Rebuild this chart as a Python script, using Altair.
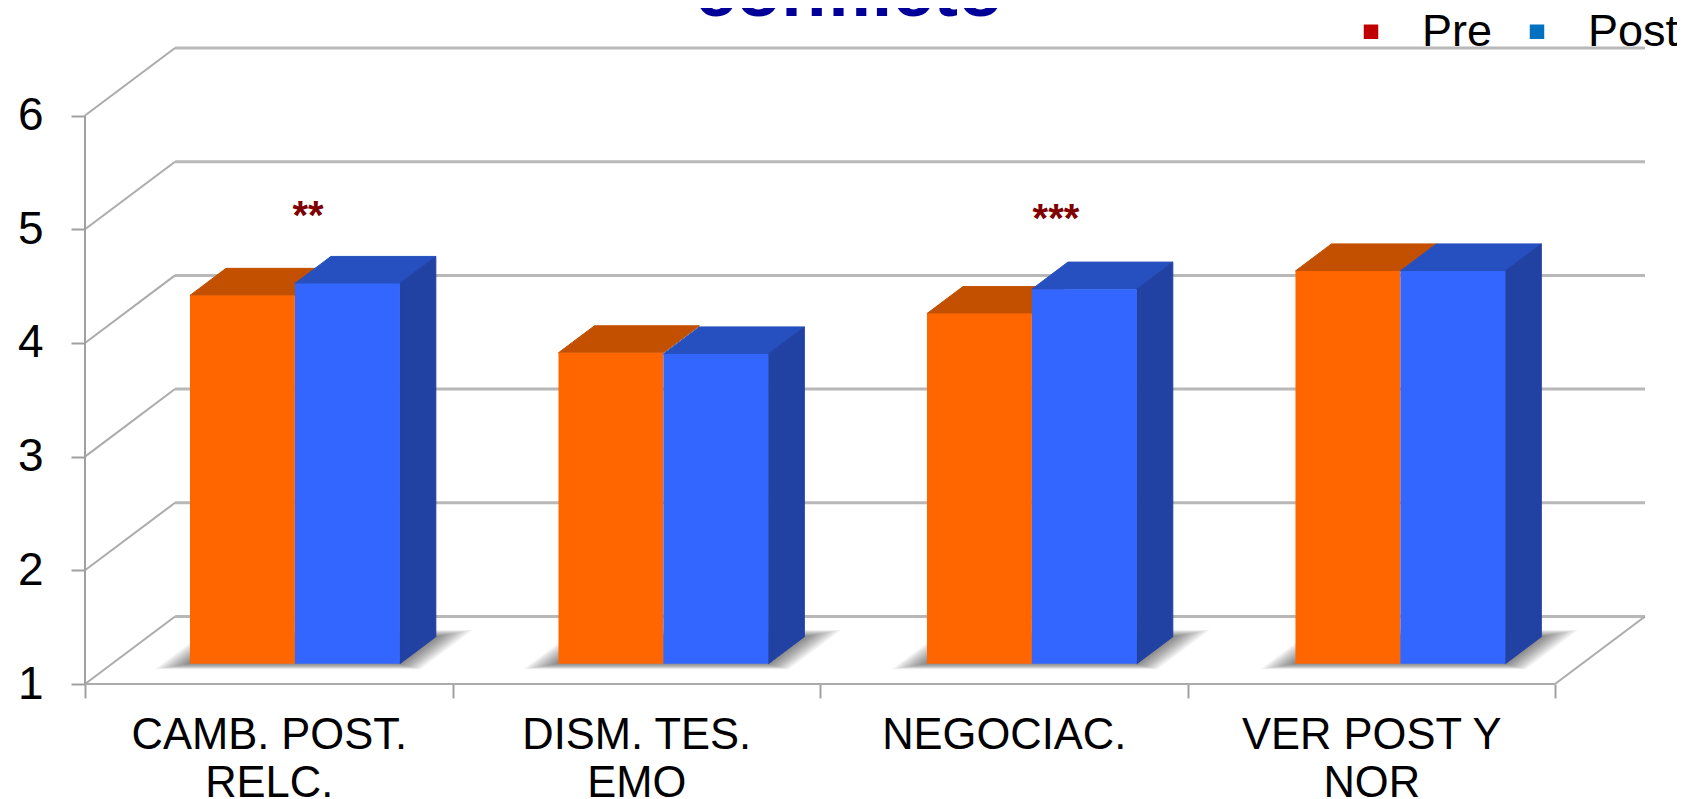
import json
import altair as alt
import pandas as pd

# ---- values ----
categories = ["CAMB. POST.|RELC.", "DISM. TES.|EMO", "NEGOCIAC.", "VER POST Y|NOR"]
pre_values = [4.24, 3.735, 4.08, 4.455]
post_values = [4.345, 3.725, 4.295, 4.455]
series_names = ["Pre", "Post"]
legend_colors = ["#C00000", "#0070C0"]
y_ticks = [1, 2, 3, 4, 5, 6]
sig_marks = ["**", "***"]
sig_groups = [0.607, 2.642]
sig_levels = [5.0, 4.98]
title_text = ["conflicto"]
title_x = [2.079]
title_y = [6.872]

# ---- projection of the fake 3-D box, in scale units ----
DX = 90 / 367.5
DY = 67.5 / 113.6
NEAR, FAR = 0.3, 0.7
BAR_W = 0.2855
BAR_START = 0.2857
BAR_STEP = 1.0027
n = len(categories)
X_DOMAIN = [0, n + DX]
Y_DOMAIN = [1, 6 + DY]
xs = alt.Scale(domain=X_DOMAIN, nice=False, zero=False)
ys = alt.Scale(domain=Y_DOMAIN, nice=False, zero=False)
GRID = "#B8B8B8"
DIAG = "#ABABAB"
AXC = "#A0A0A0"
FONT = "Liberation Sans"

x_enc = alt.X("x:Q", scale=xs, axis=None)
y_enc = alt.Y("y:Q", scale=ys, axis=None)

# grid and box frame
back = pd.DataFrame({"x": DX, "x2": n + DX, "y": [v + DY for v in y_ticks]})
back_lines = alt.Chart(back).mark_rule(color=GRID, strokeWidth=3).encode(
    x=x_enc, x2="x2:Q", y=y_enc)

diag_rows = []
for v in y_ticks:
    diag_rows += [{"id": f"l{v}", "x": 0, "y": v}, {"id": f"l{v}", "x": DX, "y": v + DY}]
diag_rows += [{"id": "r", "x": n, "y": 1}, {"id": "r", "x": n + DX, "y": 1 + DY}]
diag_rows += [{"id": "front", "x": 0, "y": 1}, {"id": "front", "x": n, "y": 1}]
diagonals = alt.Chart(pd.DataFrame(diag_rows)).mark_line(color=DIAG, strokeWidth=2).encode(
    x=x_enc, y=y_enc, detail="id:N")

axis_line = alt.Chart(pd.DataFrame({"x": [0, 0], "y": [1, 6]})).mark_line(
    color=AXC, strokeWidth=2).encode(x=x_enc, y=y_enc)

# real axes: ticks on the category borders, labels at their centres
tick_axis = alt.Chart(pd.DataFrame({"x": [0.0], "y": [1.0]})).mark_point(size=0, opacity=0).encode(
    x=alt.X("x:Q", scale=xs, axis=alt.Axis(
        orient="bottom", values=list(range(n + 1)), labels=False, title=None, domain=False,
        grid=False, tickSize=14, tickColor=AXC, tickWidth=2)),
    y=alt.Y("y:Q", scale=ys, axis=alt.Axis(
        orient="left", values=y_ticks, title=None, domain=False, grid=False, format="d",
        tickSize=14, tickColor=AXC, tickWidth=2,
        labelFont=FONT, labelFontSize=46, labelColor="#000000", labelPadding=28)),
)
label_expr = "split(" + json.dumps(categories) + "[floor(datum.value)], '|')"
label_axis = alt.Chart(pd.DataFrame({"x": [0.5], "y": [1.0]})).mark_point(size=0, opacity=0).encode(
    x=alt.X("x:Q", scale=xs, axis=alt.Axis(
        orient="bottom", values=[i + 0.5 for i in range(n)], labelExpr=label_expr, title=None,
        domain=False, grid=False, ticks=False, labelFont=FONT, labelFontSize=43.5,
        labelColor="#000000", labelPadding=30, labelLineHeight=48, labelAngle=0,
        labelOverlap=False, labelFlush=False, labelBound=False, labelLimit=600)),
    y=y_enc,
)

# soft floor shadows, as nested translucent parallelograms
shadow_rows = []
SPREADS = (1.0, 0.9, 0.8, 0.7, 0.6, 0.5, 0.4, 0.3, 0.2, 0.1)
for i in range(n):
    left = BAR_START + i * BAR_STEP
    right = left + 2 * BAR_W
    for g in SPREADS:
        d0, d1 = NEAR - 0.08 * g, FAR + 0.1 * g
        pad = 0.075 * g
        for d in (d0, d1):
            shadow_rows.append({
                "id": f"{i}-{g}", "y": 1 + d * DY,
                "x": left + (d - NEAR) * DX - pad,
                "x2": right + (d - NEAR) * DX + pad,
            })
shadows = alt.Chart(pd.DataFrame(shadow_rows)).mark_area(
    orient="horizontal", color="#000000", opacity=0.055, strokeWidth=0).encode(
    y=alt.Y("y:Q", scale=ys, axis=None),
    x=alt.X("x:Q", scale=xs, axis=None, stack=None), x2="x2:Q", detail="id:N")


def face_layers(values, start, top_c, front_c, side_c=None):
    base = NEAR * DY
    tops = [v + base for v in values]
    front = pd.DataFrame({
        "x": [BAR_START + i * BAR_STEP + start for i in range(n)],
        "y": 1 + base,
        "y2": tops,
    })
    front["x2"] = front["x"] + BAR_W
    top_rows, side_rows = [], []
    depth = FAR - NEAR
    for i, v in enumerate(tops):
        x0 = BAR_START + i * BAR_STEP + start
        for d in (0, depth):
            top_rows.append({"id": i, "y": v + d * DY, "x": x0 + d * DX, "x2": x0 + BAR_W + d * DX})
            side_rows.append({"id": i, "x": x0 + BAR_W + d * DX,
                              "y": 1 + base + d * DY, "y2": v + d * DY})
    out = [alt.Chart(pd.DataFrame(top_rows)).mark_area(
        orient="horizontal", color=top_c, stroke=top_c, strokeWidth=1).encode(
        y=alt.Y("y:Q", scale=ys, axis=None),
        x=alt.X("x:Q", scale=xs, axis=None, stack=None), x2="x2:Q", detail="id:N")]
    if side_c:
        out.append(alt.Chart(pd.DataFrame(side_rows)).mark_area(
            orient="vertical", color=side_c, stroke=side_c, strokeWidth=1).encode(
            x=alt.X("x:Q", scale=xs, axis=None),
            y=alt.Y("y:Q", scale=ys, axis=None, stack=None), y2="y2:Q", detail="id:N"))
    out.append(alt.Chart(front).mark_rect(color=front_c).encode(
        x=x_enc, x2="x2:Q", y=y_enc, y2="y2:Q"))
    return out


orange = face_layers(pre_values, 0, "#C25000", "#FF6600")
blue = face_layers(post_values, BAR_W, "#2650BF", "#3366FF", "#2141A3")

stars = alt.Chart(pd.DataFrame({"x": sig_groups, "y": sig_levels, "t": sig_marks})).mark_text(
    font=FONT, fontSize=40, fontWeight="bold", color="#800000", baseline="alphabetic",
    align="center").encode(x=x_enc, y=y_enc, text="t:N")

title_mark = alt.Chart(pd.DataFrame({"x": title_x, "y": title_y, "t": title_text})).mark_text(
    font=FONT, fontSize=74, fontWeight="bold", color="#000099", baseline="alphabetic",
    align="center").encode(x=x_enc, y=y_enc, text="t:N")

legend_layer = alt.Chart(pd.DataFrame({"serie": series_names})).mark_square(size=0, opacity=1).encode(
    x=alt.value(0), y=alt.value(0),
    color=alt.Color("serie:N", sort=series_names,
                    scale=alt.Scale(domain=series_names, range=legend_colors),
                    legend=alt.Legend(
                        title=None, orient="none", legendX=1263.5, legendY=-39,
                        direction="horizontal", columns=2, symbolType="square", symbolSize=210,
                        symbolStrokeWidth=0, symbolOpacity=1, labelFont=FONT, labelFontSize=45,
                        labelColor="#000000", labelOffset=28.5, columnPadding=22, padding=0)),
)

chart = alt.layer(
    back_lines, diagonals, axis_line, tick_axis, label_axis, shadows,
    *orange, *blue, stars, title_mark, legend_layer,
).resolve_axis(x="independent", y="independent").properties(
    width=1560,
    height=636,
    padding={"left": 77, "top": 40, "right": 32, "bottom": 115},
    autosize=alt.AutoSizeParams(type="none"),
    background="#FFFFFF",
).configure_view(stroke=None)

chart.save("out.html", embed_options={"renderer": "svg", "actions": False})
